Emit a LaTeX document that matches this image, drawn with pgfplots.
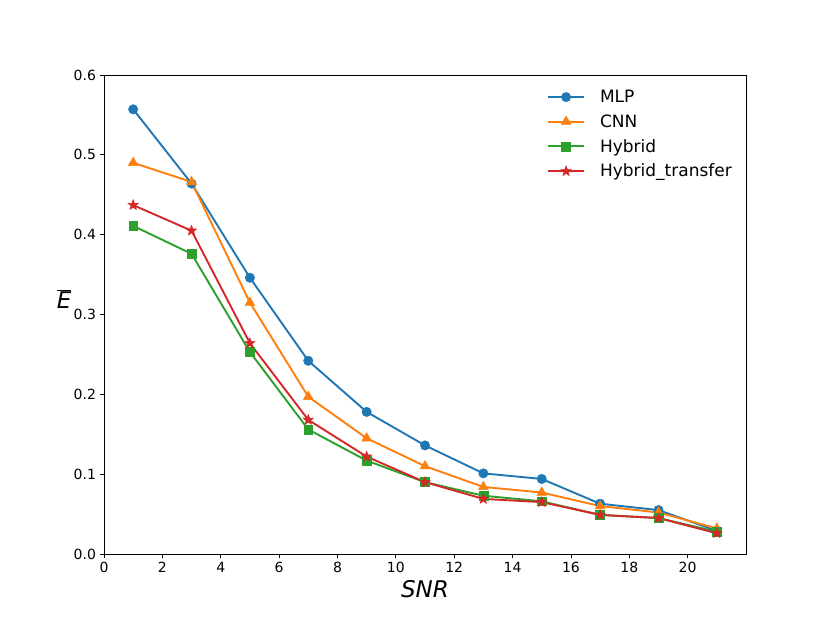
\documentclass[border=0pt]{standalone}
\usepackage{fontspec}
\setmainfont{DejaVu Sans}
\setsansfont{DejaVu Sans}
\usepackage{pgfplots}
\pgfplotsset{compat=1.18}
\definecolor{tabblue}{HTML}{1F77B4}
\definecolor{taborange}{HTML}{FF7F0E}
\definecolor{tabgreen}{HTML}{2CA02C}
\definecolor{tabred}{HTML}{D62728}
\pgfdeclareplotmark{fstar}{%
  \pgfpathmoveto{\pgfqpointpolar{90}{\pgfplotmarksize}}%
  \pgfpathlineto{\pgfqpointpolar{126}{0.42\pgfplotmarksize}}%
  \pgfpathlineto{\pgfqpointpolar{162}{\pgfplotmarksize}}%
  \pgfpathlineto{\pgfqpointpolar{198}{0.42\pgfplotmarksize}}%
  \pgfpathlineto{\pgfqpointpolar{234}{\pgfplotmarksize}}%
  \pgfpathlineto{\pgfqpointpolar{270}{0.42\pgfplotmarksize}}%
  \pgfpathlineto{\pgfqpointpolar{306}{\pgfplotmarksize}}%
  \pgfpathlineto{\pgfqpointpolar{342}{0.42\pgfplotmarksize}}%
  \pgfpathlineto{\pgfqpointpolar{18}{\pgfplotmarksize}}%
  \pgfpathlineto{\pgfqpointpolar{54}{0.42\pgfplotmarksize}}%
  \pgfpathclose
  \pgfusepathqfillstroke
}
\begin{document}
\begin{tikzpicture}[x=1bp,y=1bp]
\path[use as bounding box] (0,0) rectangle (830,623);
\begin{axis}[
  at={(104bp,69bp)}, anchor=south west,
  scale only axis, width=642bp, height=479bp,
  xmin=0, xmax=22, ymin=0, ymax=0.6,
  xtick={0,2,...,20}, ytick={0,0.1,...,0.6},
  yticklabel style={/pgf/number format/.cd,fixed,fixed zerofill,precision=1},
  /pgf/number format/assume math mode=true,
  tick style={black, line width=0.8bp},
  tick align=outside,
  major tick length=4.5bp,
  xtick pos=bottom, ytick pos=left,
  axis line style={line width=0.8bp},
  ticklabel style={font=\fontsize{14bp}{16bp}\selectfont},
  xlabel={\fontsize{23bp}{26bp}\selectfont\itshape SNR},
  ylabel={\fontsize{23bp}{26bp}\selectfont $\overline{\hbox{\itshape E}}$},
  ylabel style={rotate=-90, at={(axis description cs:-0.062,0.533)}, anchor=center, inner sep=0pt},
  xlabel style={at={(ticklabel cs:0.5)}, anchor=north, yshift=-1bp},
  legend style={draw=none, fill=none, at={(1,1)}, anchor=north east,
    xshift=-4bp, yshift=-11bp,
    font=\fontsize{17bp}{20bp}\selectfont, row sep=6.5bp,
    nodes={inner xsep=7bp}},
  legend cell align=left,
  legend image code/.code={
    \draw[#1] (0bp,0bp) -- (18bp,0bp) plot coordinates {(18bp,0bp)} -- (36bp,0bp);
    \path (44bp,0bp);
  },
  every axis plot/.append style={line width=1.9bp},
]
\addplot[tabblue, mark=*, mark size=4.7bp, mark options={solid, line width=0.5bp}] coordinates {
(1,0.557) (3,0.464) (5,0.346) (7,0.242) (9,0.178) (11,0.136) (13,0.101) (15,0.094) (17,0.063) (19,0.055) (21,0.029)};
\addlegendentry{MLP}
\addplot[taborange, mark=triangle*, mark size=5.6bp, mark options={solid, line width=0.5bp}] coordinates {
(1,0.490) (3,0.466) (5,0.315) (7,0.197) (9,0.145) (11,0.110) (13,0.084) (15,0.077) (17,0.060) (19,0.052) (21,0.032)};
\addlegendentry{CNN}
\addplot[tabgreen, mark=square*, mark size=4.4bp, mark options={solid, line width=0.5bp}] coordinates {
(1,0.411) (3,0.376) (5,0.253) (7,0.156) (9,0.117) (11,0.090) (13,0.073) (15,0.066) (17,0.049) (19,0.045) (21,0.028)};
\addlegendentry{Hybrid}
\addplot[tabred, mark=fstar, mark size=5.4bp, mark options={solid, line width=0.5bp}] coordinates {
(1,0.437) (3,0.405) (5,0.264) (7,0.168) (9,0.122) (11,0.090) (13,0.069) (15,0.065) (17,0.049) (19,0.045) (21,0.026)};
\addlegendentry{Hybrid\_transfer}
\end{axis}
\end{tikzpicture}
\end{document}
